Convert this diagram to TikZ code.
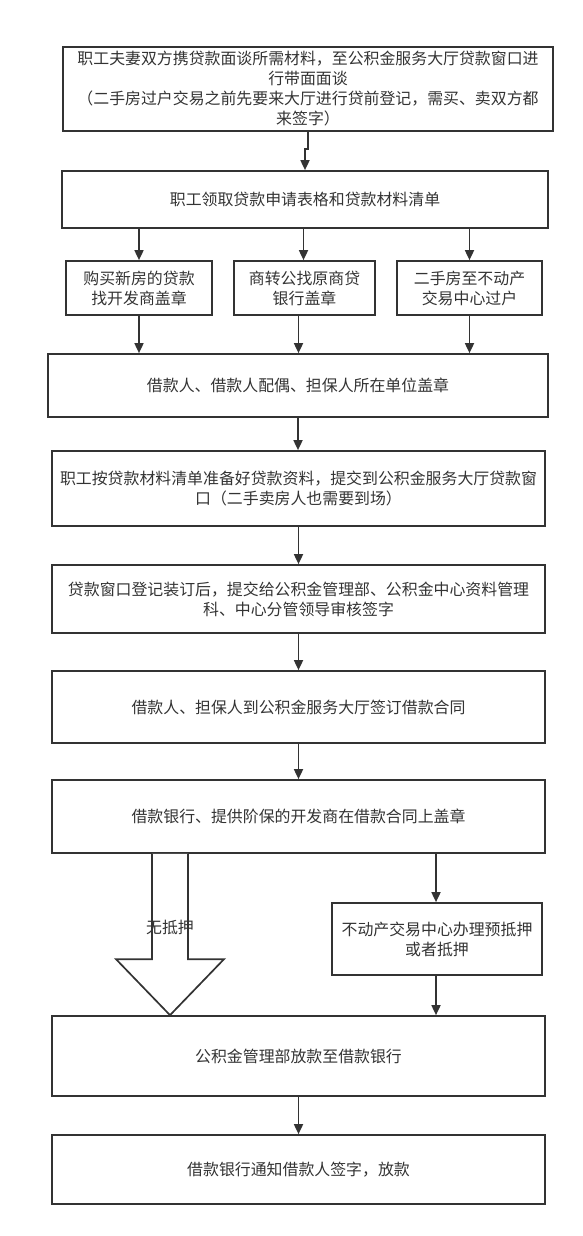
\documentclass[tikz,border=0pt]{standalone}
\usepackage{fontspec}
\setmainfont{Noto Sans CJK SC}
\usepackage{tikz}
\usetikzlibrary{arrows.meta, calc}
\definecolor{linegray}{HTML}{333333}
\tikzset {
    x=1pt, y=-1pt,
    >={Triangle[width=9pt,length=10pt]},
    every node/.style={text=linegray, font=\fontsize{15.9}{20}\selectfont},
    box/.style={draw=linegray, line width=1.7pt, align=center, inner sep=0pt,
        minimum width=493pt},
    small/.style={box, minimum width=145pt, minimum height=54pt},
    flow/.style={->, draw=linegray, line width=1.7pt},
    hollow/.style={draw=linegray, line width=1.7pt, fill=white, line join=miter}
}

\begin{document}
\begin{tikzpicture}
                            \useasboundingbox (0,0) rectangle (583,1236);

                            \node[box, minimum width=490pt, minimum height=84pt] (b1) at (308,89) {职工夫妻双方携贷款面谈所需材料，至公积金服务大厅贷款窗口进\\行带面面谈\\（二手房过户交易之前先要来大厅进行贷前登记，需买、卖双方都\\来签字）};
                            \node[box, minimum width=486pt, minimum height=57pt] (b2) at (305,199.5) {职工领取贷款申请表格和贷款材料清单};
                            \node[small, minimum width=146pt] (b3a) at (139,288) {购买新房的贷款\\找开发商盖章};
                            \node[small, minimum width=141pt] (b3b) at (304.5,288) {商转公找原商贷\\银行盖章};
                            \node[small] (b3c) at (469.5,288) {二手房至不动产\\交易中心过户};
                            \node[box, minimum width=500pt, minimum height=63pt] (b4) at (298,385.5) {借款人、借款人配偶、担保人所在单位盖章};
                            \node[box, minimum height=75pt] (b5) at (298.5,488.5) {职工按贷款材料清单准备好贷款资料，提交到公积金服务大厅贷款窗\\口（二手卖房人也需要到场）};
                            \node[box, minimum height=68pt] (b6) at (298.5,599) {贷款窗口登记装订后，提交给公积金管理部、公积金中心资料管理\\科、中心分管领导审核签字};
                            \node[box, minimum height=72pt] (b7) at (298.5,707) {借款人、担保人到公积金服务大厅签订借款合同};
                            \node[box, minimum height=73pt] (b8) at (298.5,816.5) {借款银行、提供阶保的开发商在借款合同上盖章};
                            \node[box, minimum width=210pt, minimum height=72pt] (b9) at (437,939) {不动产交易中心办理预抵押\\或者抵押};
                            \node[box, minimum height=80pt] (b10) at (298.5,1056) {公积金管理部放款至借款银行};
                            \node[box, minimum height=69pt] (b11) at (298.5,1169.5) {借款银行通知借款人签字，放款};

                            % big hollow arrow, no mortgage
                            \coordinate (nx) at (170,0);
                            \coordinate (na) at (b8.south -| nx);
                            \coordinate (nb) at (b10.north -| nx);
                            \draw[hollow] ([xshift=-18pt]na) -- ([xshift=-18pt,yshift=56pt]nb) -- ([xshift=-54pt,yshift=56pt]nb) -- (nb)
                                -- ([xshift=54pt,yshift=56pt]nb) -- ([xshift=18pt,yshift=56pt]nb) -- ([xshift=18pt]na);
                            \node (nolabel) at (170,927) {无抵押};

                            \draw[flow] (b1.south) -- ++(0,17) -| (b2.north);
                            \draw[flow] (b3a.north |- b2.south) -- (b3a.north);
                            \draw[flow] ([xshift=-1pt]b3b.north |- b2.south) -- ([xshift=-1pt]b3b.north);
                            \draw[flow] (b3c.north |- b2.south) -- (b3c.north);
                            \draw[flow] (b3a.south) -- (b3a.south |- b4.north);
                            \draw[flow] ([xshift=-6pt]b3b.south) -- ([xshift=-6pt]b3b.south |- b4.north);
                            \draw[flow] (b3c.south) -- (b3c.south |- b4.north);
                            \draw[flow] (b4.south) -- (b4.south |- b5.north);
                            \draw[flow] (b5) -- (b6);
                            \draw[flow] (b6) -- (b7);
                            \draw[flow] (b7) -- (b8);
                            \draw[flow] ([xshift=-1pt]b9.north |- b8.south) -- ([xshift=-1pt]b9.north);
                            \draw[flow] ([xshift=-1pt]b9.south) -- ([xshift=-1pt]b9.south |- b10.north);
                            \draw[flow] (b10) -- (b11);
                        \end{tikzpicture}
\end{document}
